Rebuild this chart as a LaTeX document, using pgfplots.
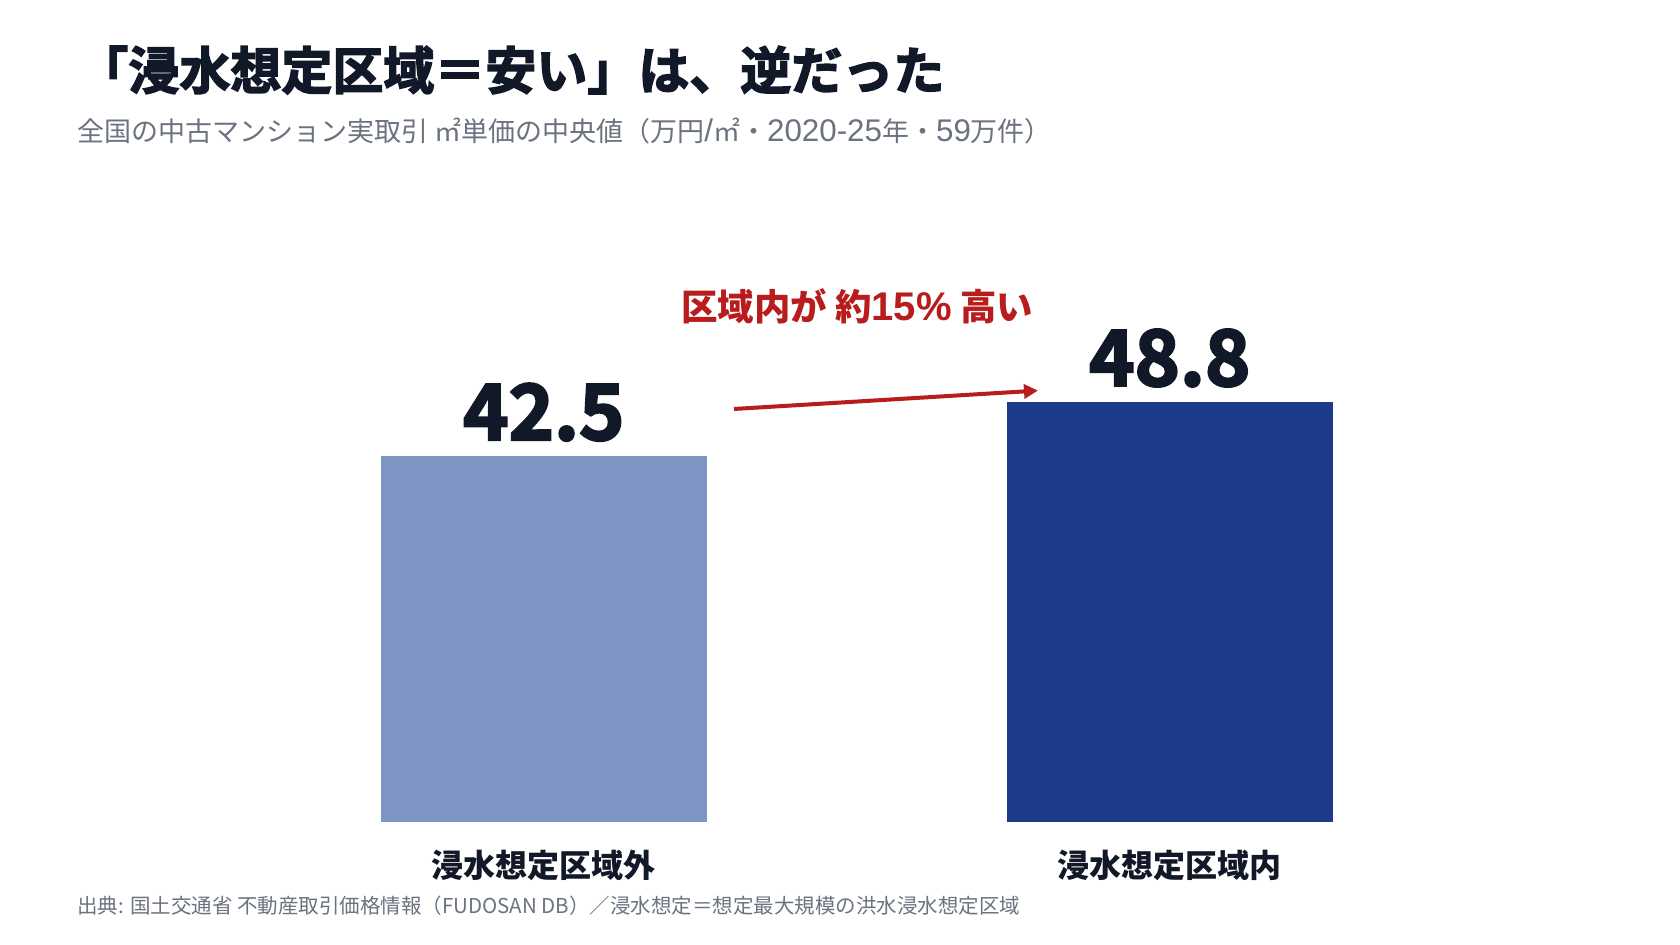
\documentclass[border=0pt]{standalone}
\usepackage{fontspec}
\setmainfont{Noto Sans CJK JP}
\newfontfamily\heavy{Noto Sans CJK JP}[UprightFont={* Bold}, FakeBold=3]
\newfontfamily\latin{Liberation Sans}[Scale=1.1]
\newfontfamily\sublatin{Liberation Sans}[Scale=1.16]
\usepackage{pgfplots}
\pgfplotsset{compat=1.18}
\usetikzlibrary{arrows.meta}
\definecolor{ink}{HTML}{111827}
\definecolor{subgrey}{HTML}{6B7280}
\definecolor{barlight}{HTML}{7F95C4}
\definecolor{bardark}{HTML}{1E3A8A}
\definecolor{accent}{HTML}{B91C1C}

\begin{document}
\begin{tikzpicture}
% page: 1680x945 px, 1 px = 0.5 pt
\path[fill=white,use as bounding box] (0,0) rectangle (840pt,472.5pt);

\begin{axis}[
  at={(115.45pt,61.65pt)}, anchor=south west,
  scale only axis, width=625.9pt, height=257.85pt,
  xmin=-0.5, xmax=1.5, ymin=0, ymax=60,
  axis line style={draw=none}, major tick length=0pt,
  ytick=\empty, xtick={0,1},
  xticklabels={浸水想定区域外,浸水想定区域内},
  xticklabel style={font=\fontsize{16}{16}\selectfont\bfseries, text=ink, anchor=center, yshift=-21.7pt},
  clip=false,
  point meta=explicit symbolic,
  nodes near coords={\pgfplotspointmeta},
  every node near coord/.style={font=\fontsize{38.5}{38.5}\selectfont\heavy, text=ink, anchor=south, inner sep=0pt, yshift=7.5pt},
]
\addplot[ybar, bar width=0.5209, bar shift=0pt, fill=barlight, draw=none] coordinates {(0,42.5) [42.5]};
\addplot[ybar, bar width=0.5209, bar shift=0pt, fill=bardark, draw=none] coordinates {(1,48.8) [48.8]};
\end{axis}

% titles
\node[anchor=base west, inner sep=0pt, text=ink, font=\fontsize{25.5}{25.5}\selectfont\heavy]
  at (38.5pt,427.8pt) {「浸水想定区域＝安い」は、逆だった};
\node[anchor=base west, inner sep=0pt, text=subgrey, font=\fontsize{13.5}{13.5}\selectfont]
  at (38.5pt,401.9pt) {全国の中古マンション実取引 ㎡単価の中央値（万円{\sublatin/}㎡・{\sublatin 2020-25}年・{\sublatin 59}万件）};

% annotation
\node[anchor=base, inner sep=0pt, text=accent, font=\fontsize{18.2}{18.2}\selectfont\bfseries]
  at (428.5pt,312pt) {区域内が 約{\latin\bfseries 15\%} 高い};
\draw[accent, line width=2pt, -{Triangle[length=7pt,width=7pt]}] (367pt,268pt) -- (519pt,277.2pt);

% footer
\node[anchor=base west, inner sep=0pt, text=subgrey, font=\fontsize{10.25}{10.25}\selectfont]
  at (38.5pt,15.6pt) {出典: 国土交通省 不動産取引価格情報（FUDOSAN DB）／浸水想定＝想定最大規模の洪水浸水想定区域};
\end{tikzpicture}
\end{document}
